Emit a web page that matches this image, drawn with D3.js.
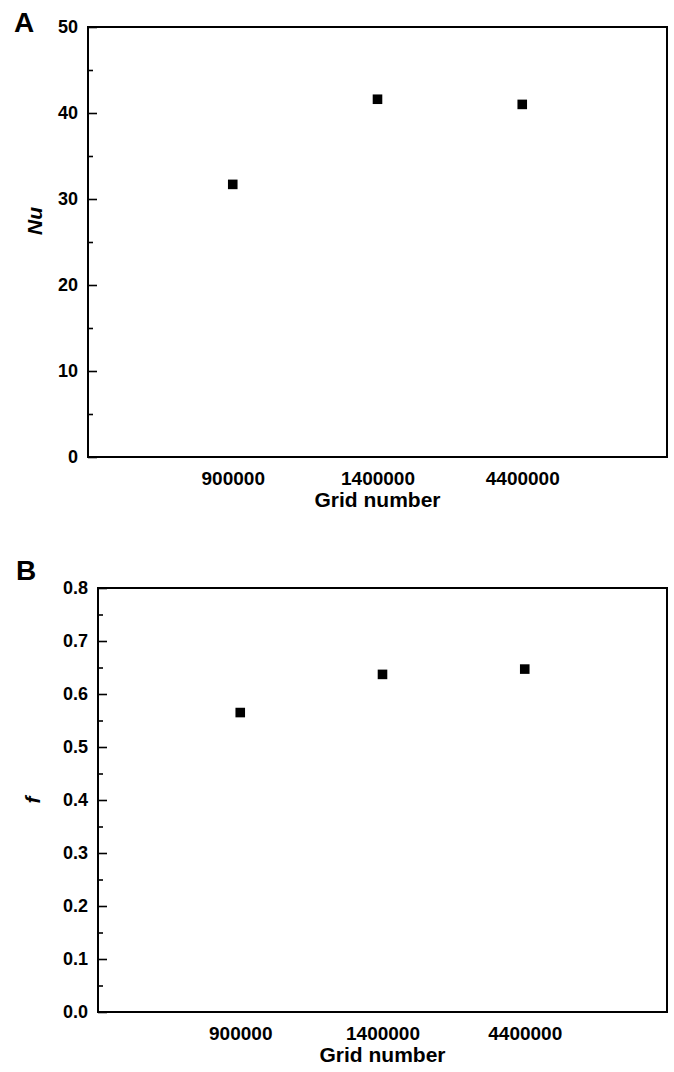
<!DOCTYPE html>
<html>
<head>
<meta charset="utf-8">
<script src="https://cdn.jsdelivr.net/npm/d3@7"></script>
<style>
  html, body { margin: 0; padding: 0; background: #fff; }
  svg { display: block; }
  text { font-family: "Liberation Sans", Arial, sans-serif; font-weight: bold; fill: #000; }
</style>
</head>
<body>
<svg id="chart" width="674" height="1072"></svg>
<script>
// ---- data ----
const categories = ["900000", "1400000", "4400000"];
const nuValues = [31.7, 41.6, 41.0];
const fValues = [0.565, 0.637, 0.647];
const nuTicks = [0, 10, 20, 30, 40, 50];
const nuMinorTicks = [5, 15, 25, 35, 45];
const fTicks = [0.0, 0.1, 0.2, 0.3, 0.4, 0.5, 0.6, 0.7, 0.8];
const fMinorTicks = [0.05, 0.15, 0.25, 0.35, 0.45, 0.55, 0.65, 0.75];

const svg = d3.select("#chart");

const panels = [
  { letter: "A", letterX: 14, letterY: 32, x0: 88, x1: 667, y0: 27, y1: 457,
    domain: [0, 50], values: nuValues, ticks: nuTicks, minor: nuMinorTicks, fmt: d3.format("d"),
    ylabel: "Nu", ylabelX: 35, ylabelY: 221, xlabelY: 507 },
  { letter: "B", letterX: 16, letterY: 580, x0: 98, x1: 667, y0: 588, y1: 1012,
    domain: [0, 0.8], values: fValues, ticks: fTicks, minor: fMinorTicks, fmt: d3.format(".1f"),
    ylabel: "f", ylabelX: 33, ylabelY: 800, xlabelY: 1062 }
];

panels.forEach(p => {
  const g = svg.append("g");
  const x = d3.scalePoint().domain(categories).range([p.x0, p.x1]).padding(1);
  const y = d3.scaleLinear().domain(p.domain).range([p.y1, p.y0]);

  // major y ticks (inward) with labels
  const yAxis = g.append("g")
    .attr("transform", `translate(${p.x0},0)`)
    .call(d3.axisLeft(y).tickValues(p.ticks).tickFormat(p.fmt).tickSizeInner(-9).tickSizeOuter(0).tickPadding(10));
  yAxis.select(".domain").remove();
  yAxis.selectAll(".tick line").attr("stroke", "#000").attr("stroke-width", 1.6);
  yAxis.selectAll("text").style("font-size", "18px").attr("font-family", null);

  // minor y ticks
  const yMinor = g.append("g")
    .attr("transform", `translate(${p.x0},0)`)
    .call(d3.axisLeft(y).tickValues(p.minor).tickFormat("").tickSizeInner(-5).tickSizeOuter(0));
  yMinor.select(".domain").remove();
  yMinor.selectAll(".tick line").attr("stroke", "#000").attr("stroke-width", 1.6);

  // x axis labels
  const xAxis = g.append("g")
    .attr("transform", `translate(0,${p.y1})`)
    .call(d3.axisBottom(x).tickSize(0).tickPadding(15));
  xAxis.select(".domain").remove();
  xAxis.selectAll("text").style("font-size", "19px").attr("font-family", null);

  // frame
  g.append("rect")
    .attr("x", p.x0).attr("y", p.y0)
    .attr("width", p.x1 - p.x0).attr("height", p.y1 - p.y0)
    .attr("fill", "none").attr("stroke", "#000").attr("stroke-width", 2);

  // markers
  g.selectAll("path.pt")
    .data(p.values)
    .join("path")
    .attr("class", "pt")
    .attr("d", d3.symbol(d3.symbolSquare, 92))
    .attr("transform", (d, i) => `translate(${x(categories[i])},${y(d)})`)
    .attr("fill", "#000");

  // x label
  g.append("text")
    .attr("x", (p.x0 + p.x1) / 2).attr("y", p.xlabelY)
    .attr("text-anchor", "middle")
    .style("font-size", "21px")
    .text("Grid number");

  // y label
  g.append("text")
    .attr("transform", `translate(${p.ylabelX},${p.ylabelY}) rotate(-90)`)
    .attr("text-anchor", "middle")
    .attr("dy", "0.35em")
    .style("font-size", "21px")
    .style("font-style", "italic")
    .text(p.ylabel);

  // panel letter
  g.append("text")
    .attr("x", p.letterX).attr("y", p.letterY)
    .style("font-size", "28px")
    .text(p.letter);
});
</script>
</body>
</html>
